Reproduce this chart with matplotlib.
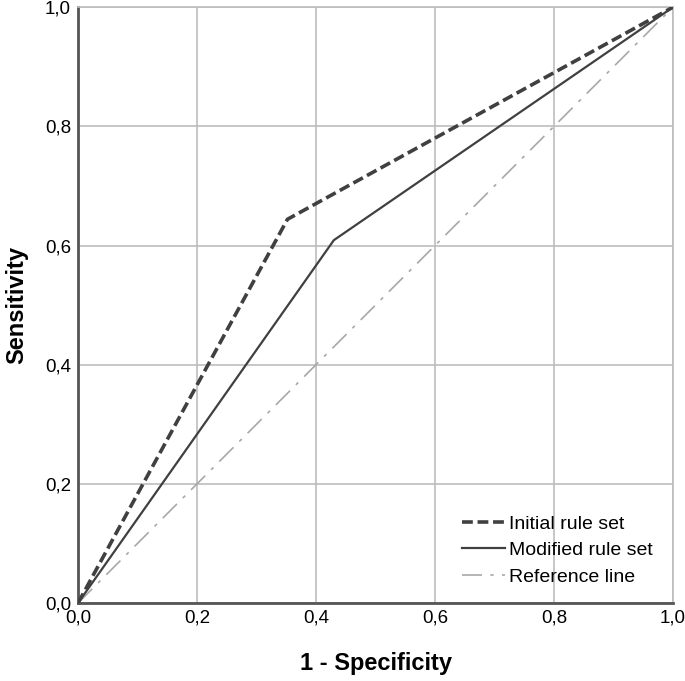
import matplotlib.pyplot as plt

plt.rcParams['font.family'] = ['Liberation Sans', 'DejaVu Sans']

# ROC curve data
fpr_initial = [0.0, 0.352, 1.0]
tpr_initial = [0.0, 0.644, 1.0]
fpr_modified = [0.0, 0.430, 1.0]
tpr_modified = [0.0, 0.609, 1.0]
ref_line = [0.0, 1.0]
ticks = [0.0, 0.2, 0.4, 0.6, 0.8, 1.0]
tick_labels = ['0,0', '0,2', '0,4', '0,6', '0,8', '1,0']

fig = plt.figure(figsize=(6.85, 6.81), dpi=100)
ax = fig.add_axes([0.1139, 0.1145, 0.8686, 0.875])

ax.plot(fpr_initial, tpr_initial, color='#404040', lw=2.6, ls=(0, (3, 1.3)),
        label='Initial rule set', zorder=3)
ax.plot(fpr_modified, tpr_modified, color='#404040', lw=1.6,
        label='Modified rule set', zorder=3)
ax.plot(ref_line, ref_line, color='#a8a8a8', lw=1.2, ls=(0, (12, 5, 2, 5)),
        label='Reference line', zorder=2)

ax.set_xlim(0, 1)
ax.set_ylim(0, 1)
ax.set_xticks(ticks)
ax.set_yticks(ticks)
ax.set_xticklabels(tick_labels, fontsize=13.5)
ax.set_yticklabels(tick_labels, fontsize=13.5)
ax.tick_params(length=0, pad=5)
ax.grid(True, color='#bdbdbd', lw=1.2)
ax.set_axisbelow(True)

for s in ['top', 'right']:
    ax.spines[s].set_color('#bdbdbd')
    ax.spines[s].set_linewidth(1.2)
for s in ['left', 'bottom']:
    ax.spines[s].set_color('#555555')
    ax.spines[s].set_linewidth(2)

ax.set_xlabel('1 - Specificity', fontsize=17, fontweight='bold', labelpad=18)
ax.set_ylabel('Sensitivity', fontsize=17, fontweight='bold', labelpad=12)

ax.legend(loc='lower right', frameon=False, fontsize=14, handlelength=2.2,
          handletextpad=0.2, labelspacing=0.45, bbox_to_anchor=(0.995, 0.0))

fig.savefig('out.png', dpi=100)
